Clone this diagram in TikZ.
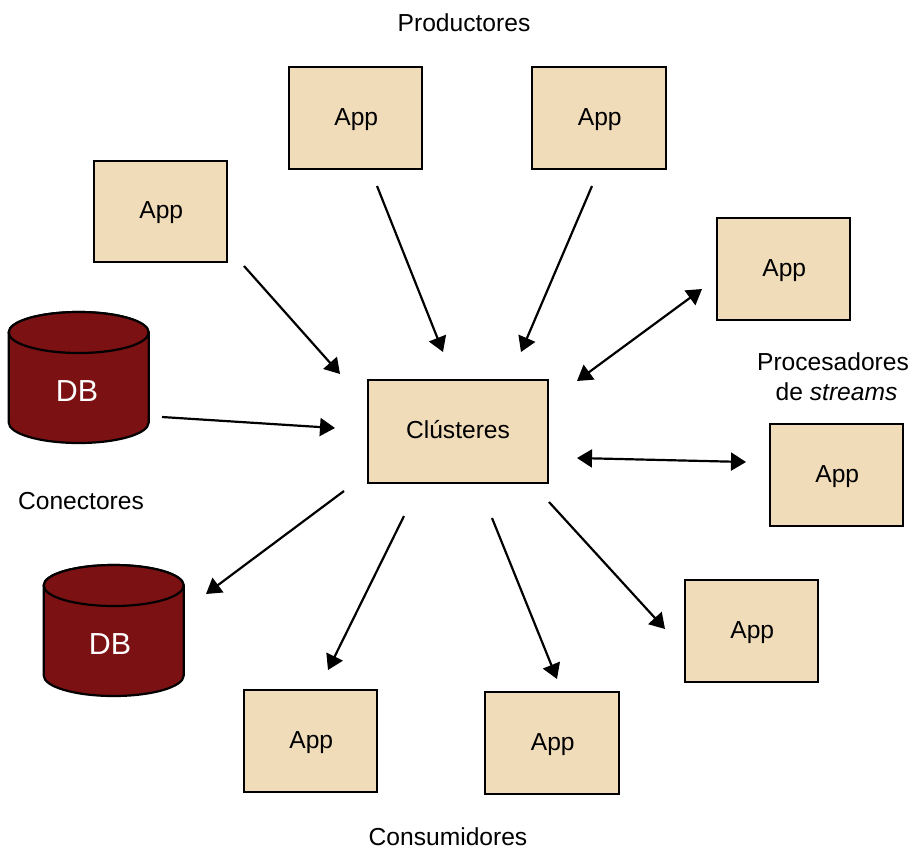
\documentclass[tikz,border=0pt]{standalone}
\usepackage{fontspec}
\setmainfont{Liberation Sans}
\usetikzlibrary{arrows.meta}
\definecolor{boxfill}{HTML}{F0DCB9}
\definecolor{dbfill}{HTML}{7B1113}
\tikzset{
  appbox/.style={draw=black,line width=2.2pt,fill=boxfill,anchor=north west,inner sep=0pt,outer sep=0pt,font=\fontsize{24.6}{28}\selectfont},
  lbl/.style={font=\fontsize{24.6}{28}\selectfont,align=center,inner sep=0pt},
  dblbl/.style={font=\fontsize{30.4}{34}\selectfont,text=white,inner sep=0pt},
  dbshape/.style={draw=black,line width=2.2pt,fill=dbfill},
  conn/.style={line width=2.2pt,-{Triangle[length=15pt,width=18pt]}},
  conn2/.style={line width=2.2pt,{Triangle[length=15pt,width=18pt]}-{Triangle[length=15pt,width=18pt]}}
}
\newcommand{\appnode}[5]{\node[appbox,minimum width=#4pt,minimum height=#5pt] (#1) at (#2,#3) {\kern1.5pt\raisebox{-7pt}[0pt][0pt]{App}};}
\newcommand{\dbcyl}[5]{%
  \draw[dbshape] (#2,#3) -- (#2,#4) arc[start angle=180,end angle=0,x radius=70,y radius=20.5] -- (#2+140,#3) arc[start angle=0,end angle=-180,x radius=70,y radius=20.5] -- cycle;
  \draw[dbshape] (#2+70,#3) ellipse[x radius=70,y radius=20.5];
  \node[dblbl] (#1) at (#2+#5,#3+59) {DB};}
\begin{document}
\begin{tikzpicture}[x=1pt,y=-1pt]
\useasboundingbox (0,0) rectangle (910,847);
\appnode{a1}{94}{161}{133}{101}
\appnode{a2}{289}{67}{133}{102}
\appnode{a3}{532}{67}{134}{102}
\appnode{a4}{717}{218}{133}{102}
\appnode{a5}{770}{424}{133}{102}
\appnode{a6}{685}{580}{133}{102}
\appnode{a7}{485}{692}{134}{102}
\appnode{a8}{244}{690}{133}{102}
\node[appbox,minimum width=180pt,minimum height=103pt] (c) at (368,380) {\raisebox{-6.5pt}[0pt][0pt]{Clústeres}};
\dbcyl{db1}{8.7}{332.5}{422.5}{68.3}
\dbcyl{db2}{43.7}{585.5}{675.5}{66.3}
\node[lbl] (lprod) at (464,23) {Productores};
\node[lbl] (lproc) at (833,376.5) {Procesadores\\[2pt]\hspace*{7pt}de \textit{streams}};
\node[lbl] (lcon) at (81,501) {Conectores};
\node[lbl] (lcons) at (448,837) {Consumidores};
\coordinate (s1) at (244,266); \coordinate (e1) at (340,374);
\coordinate (s2) at (377,186); \coordinate (e2) at (443,352);
\coordinate (s3) at (592,186); \coordinate (e3) at (521,352);
\coordinate (s4) at (702,289); \coordinate (e4) at (577,381);
\coordinate (s5) at (577,458); \coordinate (e5) at (746,462);
\coordinate (s6) at (549,502); \coordinate (e6) at (665,629);
\coordinate (s7) at (492,518); \coordinate (e7) at (557,679);
\coordinate (s8) at (404,516); \coordinate (e8) at (328,670);
\coordinate (s9) at (344,491); \coordinate (e9) at (206,594);
\coordinate (s10) at (162,417); \coordinate (e10) at (335,428);
\draw[conn] (s1) -- (e1);
\draw[conn] (s2) -- (e2);
\draw[conn] (s3) -- (e3);
\draw[conn2] (s4) -- (e4);
\draw[conn2] (s5) -- (e5);
\draw[conn] (s6) -- (e6);
\draw[conn] (s7) -- (e7);
\draw[conn] (s8) -- (e8);
\draw[conn] (s9) -- (e9);
\draw[conn] (s10) -- (e10);
\end{tikzpicture}
\end{document}
